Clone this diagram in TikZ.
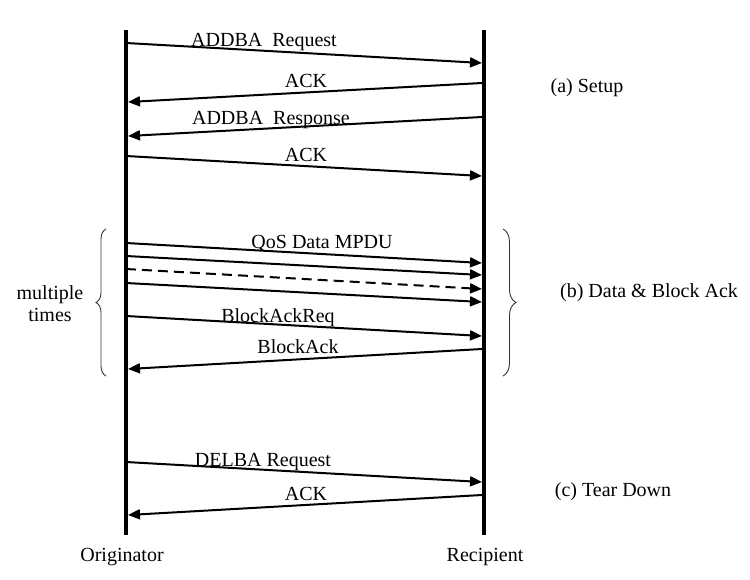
\documentclass[tikz,border=0pt]{standalone}
\usepackage{fontspec}
\setmainfont{Liberation Serif}
\usetikzlibrary{arrows.meta,decorations.pathreplacing}
\begin{document}
\begin{tikzpicture}[x=1pt,y=-1pt,
  life/.style={line width=3.5pt},
  msg/.style={line width=2pt,-{Triangle[length=12pt,width=10pt]}},
  lbl/.style={font=\fontsize{20}{24}\selectfont,inner sep=0pt,anchor=base},
  brc/.style={decorate,decoration={brace,amplitude=#1},line width=0.9pt,draw=black!80}]
\useasboundingbox (0,0) rectangle (750,579);
% lifelines
\coordinate (Otop) at (126,30); \coordinate (Obot) at (126,535);
\coordinate (Rtop) at (484,30); \coordinate (Rbot) at (484,535);
\draw[life] (Otop) -- (Obot);
\draw[life] (Rtop) -- (Rbot);
% message endpoints
\foreach \n/\y in {o1/43,o4/156,o5/243,o6/256,o7/269,o8/283,o9/316,o11/462}
  \coordinate (\n) at (126,\y);
\foreach \n/\y in {r1/63,r4/176,r5/263,r6/275,r7/289,r8/302,r9/336,r11/482}
  \coordinate (\n) at (482,\y);
\foreach \n/\y in {r2/83,r3/117,r10/349,r12/495}
  \coordinate (\n) at (482,\y);
\foreach \n/\y in {o2/102,o3/136,o10/369,o12/515}
  \coordinate (\n) at (128,\y);
% messages
\draw[msg] (o1) -- (r1);
\draw[msg] (r2) -- (o2);
\draw[msg] (r3) -- (o3);
\draw[msg] (o4) -- (r4);
\draw[msg] (o5) -- (r5);
\draw[msg] (o6) -- (r6);
\draw[msg,dash pattern=on 10pt off 6pt] (o7) -- (r7);
\draw[msg] (o8) -- (r8);
\draw[msg] (o9) -- (r9);
\draw[msg] (r10) -- (o10);
\draw[msg] (o11) -- (r11);
\draw[msg] (r12) -- (o12);
% message labels
\node[lbl] (t1) at (264,46.5) {ADDBA\ \ Request};
\node[lbl] (t2) at (306,87.5) {ACK};
\node[lbl] (t3) at (271,124.5) {ADDBA\ \ Response};
\node[lbl] (t4) at (306,161.5) {ACK};
\node[lbl] (t5) at (322,248.5) {QoS Data MPDU};
\node[lbl] (t9) at (278,322) {BlockAckReq};
\node[lbl] (t10) at (298,353) {BlockAck};
\node[lbl] (t11) at (263,466) {DELBA Request};
\node[lbl] (t12) at (306,500) {ACK};
% phase labels
\node[lbl] (pa) at (587,92) {(a) Setup};
\node[lbl] (pb) at (649,297) {(b) Data \& Block Ack};
\node[lbl] (pc) at (613,496) {(c) Tear Down};
\node[lbl] (mu) at (50,299) {multiple};
\node[lbl] (ti) at (50,321.5) {times};
\node[lbl] (orig) at (122,561) {Originator};
\node[lbl] (reci) at (485,561) {Recipient};
% braces
\coordinate (lb1) at (106,376); \coordinate (lb2) at (106,229);
\coordinate (rb1) at (503,229); \coordinate (rb2) at (503,376);
\draw[brc=10pt] (lb1) -- (lb2);
\draw[brc=13pt] (rb1) -- (rb2);
\end{tikzpicture}
\end{document}
